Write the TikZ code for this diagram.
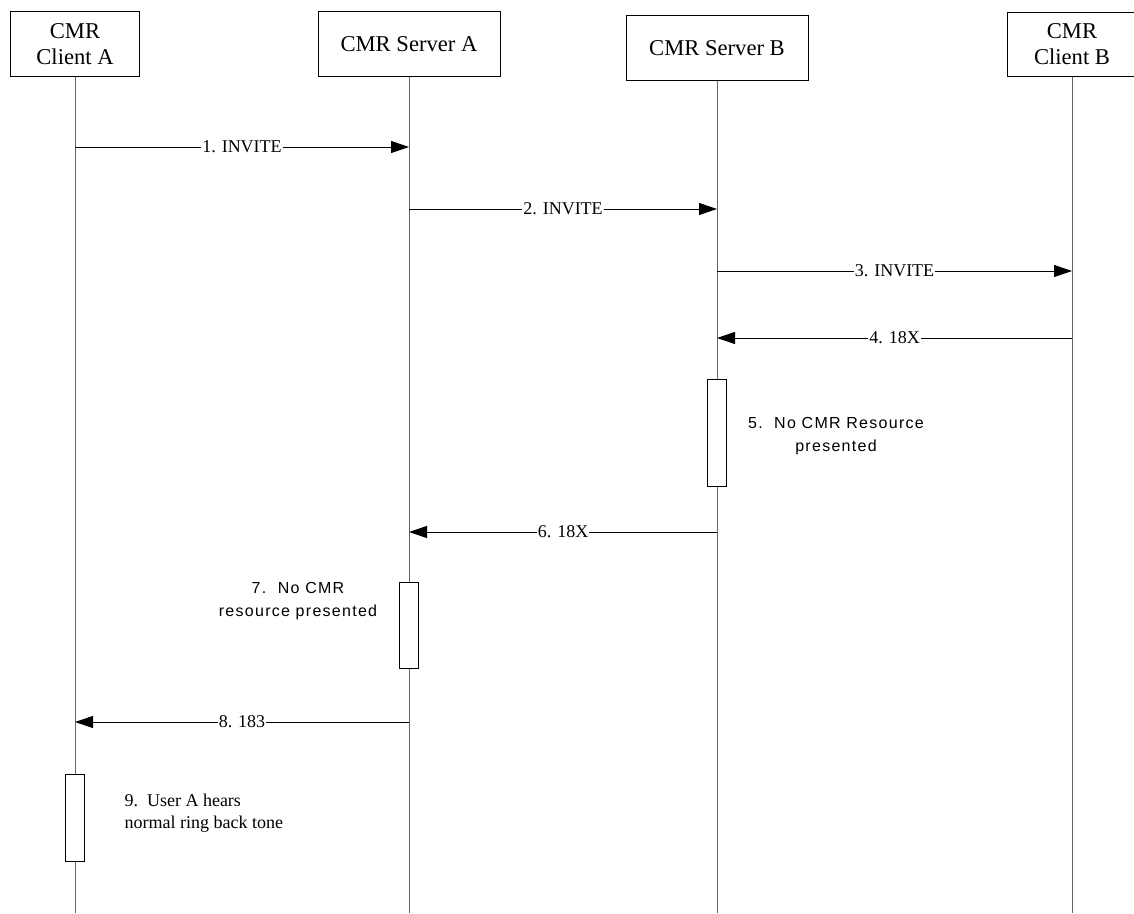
\documentclass[tikz,border=0pt]{standalone}
\usepackage{fontspec}
\setmainfont{Liberation Serif}
\newfontfamily\notefont[LetterSpace=8]{Liberation Sans}
\usetikzlibrary{positioning, arrows.meta}

\begin{document}
\begin{tikzpicture}[
        x=1pt, y=-1pt,
        every node/.style={font=\fontsize{18}{22}\selectfont},
        actor/.style={draw, rectangle, line width=1pt, fill=white, align=center, minimum height=65pt, font=\fontsize{22.6}{26}\selectfont},
        life/.style={draw=black!60, line width=1pt},
        msg/.style={line width=1pt, -{Triangle[length=18pt, width=12pt]}},
        lbl/.style={fill=white, inner sep=1pt},
        act/.style={draw, rectangle, fill=white, line width=1pt, minimum width=19pt, inner sep=0pt},
        note/.style={align=center, font=\notefont\fontsize{16}{23}\selectfont}
    ]

    \useasboundingbox (0,0) rectangle (1134,913);

    \node[actor, minimum width=129pt] (clientA) at (75,44) {CMR\\Client A};
    \node[actor, minimum width=182pt] (serverA) at (409,44) {CMR Server A};
    \node[actor, minimum width=182pt] (serverB) at (717,48) {CMR Server B};
    \node[actor, minimum width=130pt, minimum height=64pt] (clientB) at (1072,44) {CMR\\Client B};

    \coordinate (endA) at (75,913);
    \coordinate (endSA) at (409,913);
    \coordinate (endSB) at (717,913);
    \coordinate (endB) at (1072,913);

    \draw[life] (clientA.south) -- (endA);
    \draw[life] (serverA.south) -- (endSA);
    \draw[life] (serverB.south) -- (endSB);
    \draw[life] (clientB.south) -- (endB);

    \coordinate (m1) at (0,147);
    \coordinate (m2) at (0,209);
    \coordinate (m3) at (0,271);
    \coordinate (m4) at (0,338);
    \coordinate (m6) at (0,532);
    \coordinate (m8) at (0,722);

    \draw[msg] (clientA |- m1) -- node[lbl] {1. INVITE} (serverA |- m1);
    \draw[msg] (serverA |- m2) -- node[lbl] {2. INVITE} (serverB |- m2);
    \draw[msg] (serverB |- m3) -- node[lbl] {3. INVITE} (clientB |- m3);
    \draw[msg] (clientB |- m4) -- node[lbl] {4. 18X} (serverB |- m4);

    \node[act, minimum height=107pt] (act5) at (717,433) {};
    \node[note] (note5) at (836,436) {5.\ \ No CMR Resource\\presented};

    \draw[msg] (serverB |- m6) -- node[lbl] {6. 18X} (serverA |- m6);

    \node[act, minimum height=86pt] (act7) at (409,625) {};
    \node[note] (note7) at (298,601) {7.\ \ No CMR\\resource presented};

    \draw[msg] (serverA |- m8) -- node[lbl] {8. 183} (clientA |- m8);

    \node[act, minimum height=87pt] (act9) at (75,818) {};
    \node[align=left, anchor=west] (note9) at (121,813) {9.\ \ User A hears\\normal ring back tone};

\end{tikzpicture}
\end{document}
